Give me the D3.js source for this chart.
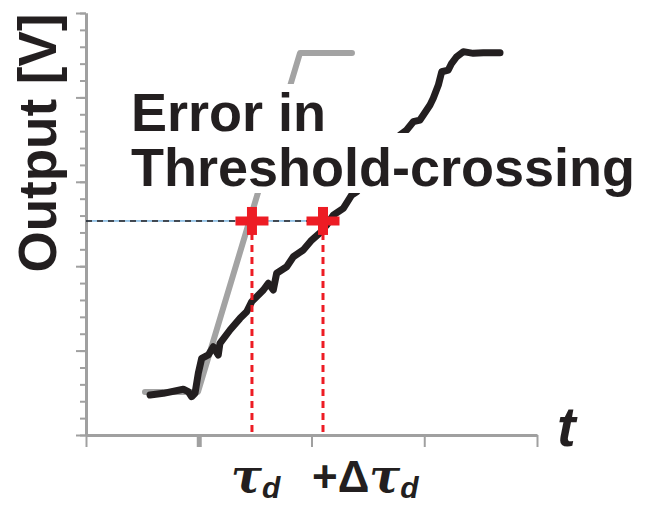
<!DOCTYPE html>
<html>
<head>
<meta charset="utf-8">
<script src="https://cdn.jsdelivr.net/npm/d3@7"></script>
<style>
body { margin: 0; background: #fff; }
svg { display: block; }
</style>
</head>
<body>
<svg id="chart" width="646" height="505"></svg>
<script>
// measured output, t in ticks, V in minor-tick units
let measT = [0.568, 0.686, 0.863, 0.907, 0.937, 0.967, 0.996, 1.026, 1.085, 1.129, 1.173, 1.188, 1.277, 1.366, 1.425, 1.470, 1.573, 1.617, 1.661, 1.691, 1.780, 1.839, 1.927, 2.002, 2.075, 2.135, 2.193, 2.282, 2.357, 2.401, 2.519, 2.652, 2.785, 2.844, 2.903, 2.962, 2.992, 3.051, 3.080, 3.125, 3.155, 3.213, 3.243, 3.288, 3.346, 3.435, 3.524, 3.672]
let measV = [2.37, 2.47, 2.71, 2.57, 2.27, 2.47, 3.66, 4.54, 4.74, 5.23, 4.74, 5.43, 6.22, 6.91, 7.30, 7.90, 8.59, 8.99, 8.59, 9.58, 9.97, 10.56, 10.96, 11.55, 11.98, 12.44, 13.03, 13.43, 14.22, 14.41, 15.40, 16.59, 17.77, 18.07, 18.56, 18.66, 18.96, 19.55, 19.95, 20.73, 21.52, 21.62, 22.02, 22.41, 22.71, 22.61, 22.65, 22.65]
// ideal step response
let idealT = [0.523, 0.993, 1.898, 2.359]
let idealV = [2.55, 2.55, 22.63, 22.63]
let threshold = 12.68
let crossT = [1.472, 2.102]
let xTicks = [0, 1, 2, 3, 4]
let yMinor = d3.range(0, 26)
let yMajor = [0, 5, 10, 15, 20, 25]

let svg = d3.select("#chart")
let x = d3.scaleLinear().domain([0, 4]).range([86, 537])
let y = d3.scaleLinear().domain([0, 25]).range([435, 13])
let ink = "#231f20"
let axisGray = "#a0a0a0"
let red = "#ed1c24"
let sans = "Liberation Sans, Arial, sans-serif"

let styleAxis = (g, w) => {
    g.select(".domain").attr("stroke", axisGray).attr("stroke-width", w)
    g.selectAll(".tick line").attr("stroke", axisGray).attr("stroke-width", 2)
}

// y axis, minor then major ticks
svg.append("g").attr("transform", `translate(${x(0)},0)`)
    .call(d3.axisLeft(y).tickValues(yMinor).tickSize(6).tickSizeOuter(0).tickFormat(""))
    .call(g => styleAxis(g, 3))
svg.append("g").attr("transform", `translate(${x(0)},0)`)
    .call(d3.axisLeft(y).tickValues(yMajor).tickSize(10).tickSizeOuter(0).tickFormat(""))
    .call(g => styleAxis(g, 3))

let xg = svg.append("g").attr("transform", `translate(0,${y(0)})`)
    .call(d3.axisBottom(x).tickValues(xTicks).tickSize(12).tickSizeOuter(0).tickFormat(""))
    .call(g => styleAxis(g, 3))
xg.selectAll(".tick line").attr("stroke-width", (d, i) => i == 1 ? 5 : 2)

let line = d3.line().x(d => x(d[0])).y(d => y(d[1]))

// threshold line
svg.append("line").attr("x1", x(0)).attr("x2", x(crossT[1]))
    .attr("y1", y(threshold)).attr("y2", y(threshold))
    .attr("stroke", "#3b8fd0").attr("stroke-width", 1)
svg.append("line").attr("x1", x(0)).attr("x2", x(crossT[1]))
    .attr("y1", y(threshold)).attr("y2", y(threshold))
    .attr("stroke", ink).attr("stroke-width", 1.5).attr("stroke-dasharray", "6,5")

svg.append("path").datum(d3.zip(idealT, idealV)).attr("d", line)
    .attr("fill", "none").attr("stroke", "#a3a3a3").attr("stroke-width", 6)
    .attr("stroke-linejoin", "round").attr("stroke-linecap", "round")

svg.append("path").datum(d3.zip(measT, measV)).attr("d", line)
    .attr("fill", "none").attr("stroke", ink).attr("stroke-width", 7)
    .attr("stroke-linejoin", "round").attr("stroke-linecap", "round")

// red drop lines and crosses
svg.selectAll(".drop").data(crossT).enter().append("line")
    .attr("class", "drop")
    .attr("x1", d => x(d)).attr("x2", d => x(d))
    .attr("y1", y(threshold) + 12).attr("y2", y(0))
    .attr("stroke", red).attr("stroke-width", 3).attr("stroke-dasharray", "7,5")
let cross = svg.selectAll(".cross").data(crossT).enter().append("g")
    .attr("class", "cross")
    .attr("transform", d => `translate(${x(d)},${y(threshold)})`)
cross.append("line").attr("x1", -16.5).attr("x2", 16.5).attr("y1", 0).attr("y2", 0)
    .attr("stroke", red).attr("stroke-width", 9)
cross.append("line").attr("x1", 0).attr("x2", 0).attr("y1", -14).attr("y2", 14)
    .attr("stroke", red).attr("stroke-width", 10)

// white boxes behind the annotation
svg.append("rect").attr("x", 128).attr("y", 84).attr("width", 204).attr("height", 50).attr("fill", "#fff")
svg.append("rect").attr("x", 128).attr("y", 133).attr("width", 514).attr("height", 60).attr("fill", "#fff")

svg.append("text").attr("x", 131).attr("y", 131)
    .attr("font-family", sans).attr("font-weight", "bold").attr("font-size", 54).attr("fill", ink)
    .text("Error in")
svg.append("text").attr("x", 131).attr("y", 186)
    .attr("font-family", sans).attr("font-weight", "bold").attr("font-size", 54).attr("fill", ink)
    .text("Threshold-crossing")

svg.append("text").attr("transform", "translate(56,143) rotate(-90)")
    .attr("text-anchor", "middle")
    .attr("font-family", sans)
    .attr("font-weight", "bold").attr("font-size", 53).attr("fill", ink)
    .text("Output [V]")

svg.append("text").attr("x", 557).attr("y", 446)
    .attr("font-family", sans)
    .attr("font-weight", "bold").attr("font-style", "italic")
    .attr("font-size", 56).attr("fill", ink).text("t")

let tauLabel = (x0, pre) => {
    let t = svg.append("text").attr("x", x0).attr("y", 492)
        .attr("font-family", sans)
        .attr("font-weight", "bold").attr("font-size", 44).attr("fill", ink)
    if (pre) t.append("tspan").text(pre)
    t.append("tspan").attr("font-family", "DejaVu Serif, serif").attr("font-style", "italic").attr("font-size", 46).text("τ")
    t.append("tspan").attr("font-style", "italic").attr("font-size", 30).attr("dy", 6).text("d")
}
tauLabel(x(crossT[0]) - 21, "")
tauLabel(x(crossT[1]) - 11, "+Δ")
</script>
</body>
</html>
